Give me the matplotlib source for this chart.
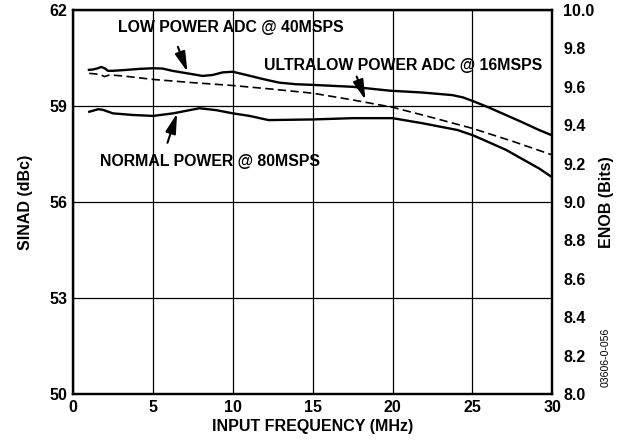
import matplotlib
matplotlib.use("Agg")
import matplotlib.pyplot as plt

plt.rcParams['font.family'] = ['Liberation Sans', 'DejaVu Sans']
plt.rcParams['font.weight'] = 'bold'

# Data (SINAD in dBc vs input frequency in MHz)
low_freq = [0.98, 1.23, 1.54, 1.75, 1.96, 2.17, 2.48, 3.1, 4.15, 5.0, 5.6, 6.2, 7.27, 8.1, 8.73,
            9.35, 10.0, 10.84, 11.9, 12.9, 13.96, 15.0, 17.5, 19.8, 21.9, 23.75, 24.4, 25.0,
            26.04, 27.09, 28.13, 29.17, 30.0]
low_sinad = [60.13, 60.14, 60.18, 60.22, 60.18, 60.10, 60.10, 60.12, 60.16, 60.18, 60.17, 60.10,
             60.01, 59.94, 59.97, 60.05, 60.07, 59.97, 59.84, 59.73, 59.68, 59.66, 59.60, 59.48,
             59.42, 59.34, 59.27, 59.16, 58.95, 58.72, 58.49, 58.25, 58.08]

ultra_freq = [1.0, 1.65, 1.96, 2.27, 3.1, 5.0, 7.48, 10.0, 12.4, 15.0, 17.5, 20.0, 22.4, 25.0,
              27.5, 30.0]
ultra_sinad = [60.02, 59.99, 59.92, 59.97, 59.94, 59.83, 59.73, 59.64, 59.53, 59.40, 59.19,
               58.96, 58.65, 58.30, 57.90, 57.47]

norm_freq = [1.0, 1.56, 1.86, 2.48, 3.73, 5.0, 6.25, 7.9, 8.96, 10.0, 11.04, 12.23, 15.0, 17.5,
             20.0, 21.88, 24.06, 25.0, 25.7, 27.1, 28.13, 29.17, 30.0]
norm_sinad = [58.82, 58.90, 58.88, 58.77, 58.72, 58.69, 58.77, 58.93, 58.87, 58.77, 58.69, 58.56,
              58.58, 58.62, 58.62, 58.46, 58.25, 58.09, 57.94, 57.63, 57.34, 57.05, 56.77]

x_ticks = [0, 5, 10, 15, 20, 25, 30]
sinad_ticks = [50, 53, 56, 59, 62]
enob_ticks = [8.0, 8.2, 8.4, 8.6, 8.8, 9.0, 9.2, 9.4, 9.6, 9.8, 10.0]

fig = plt.figure(figsize=(6.19, 4.41), dpi=100)
ax = fig.add_axes([0.1184, 0.1066, 0.7738, 0.8707])

ax.plot(low_freq, low_sinad, color='black', lw=1.7, solid_joinstyle='round')
ax.plot(ultra_freq, ultra_sinad, color='black', lw=1.2, ls=(0, (5, 2.6)))
ax.plot(norm_freq, norm_sinad, color='black', lw=1.7, solid_joinstyle='round')

ax.set_xlim(0, 30)
ax.set_ylim(50, 62)
ax.set_xticks(x_ticks)
ax.set_yticks(sinad_ticks)
ax.grid(True, color='black', lw=0.9)
ax.tick_params(length=0, labelsize=11.5, pad=4)
for lab in ax.get_xticklabels() + ax.get_yticklabels():
    lab.set_fontweight('bold')
for sp in ax.spines.values():
    sp.set_linewidth(1.6)

ax.set_xlabel('INPUT FREQUENCY (MHz)', fontsize=11.5, fontweight='bold', labelpad=3)
ax.set_ylabel('SINAD (dBc)', fontsize=11.5, fontweight='bold', labelpad=12)

ax2 = ax.twinx()
ax2.set_ylim(8.0, 10.0)
ax2.set_yticks(enob_ticks)
ax2.set_yticklabels([f'{v:.1f}' for v in enob_ticks])
ax2.tick_params(length=0, labelsize=11.5, pad=8)
for lab in ax2.get_yticklabels():
    lab.set_fontweight('bold')
for sp in ax2.spines.values():
    sp.set_linewidth(1.6)
ax2.set_ylabel('ENOB (Bits)', fontsize=11.5, fontweight='bold', labelpad=3)

arrow = dict(arrowstyle='-|>,head_length=1.2,head_width=0.32', color='black', lw=1.5,
             shrinkA=0, shrinkB=0)

ax.annotate('', xy=(7.15, 60.07), xytext=(6.55, 60.85), arrowprops=arrow)
ax.text(9.86, 61.45, 'LOW POWER ADC @ 40MSPS', fontsize=11.4, fontweight='bold',
        ha='center', va='center')

ax.annotate('', xy=(18.3, 59.19), xytext=(17.75, 59.92), arrowprops=arrow)
ax.text(20.67, 60.28, 'ULTRALOW POWER ADC @ 16MSPS', fontsize=11.4, fontweight='bold',
        ha='center', va='center')

ax.annotate('', xy=(6.5, 58.77), xytext=(5.9, 57.85), arrowprops=arrow)
ax.text(8.54, 57.28, 'NORMAL POWER @ 80MSPS', fontsize=11.4, fontweight='bold',
        ha='center', va='center')

fig.text(0.978, 0.19, '03606-0-056', rotation=90, fontsize=7.6, fontweight='normal',
         ha='center', va='center')

fig.savefig('out.png', dpi=100)
